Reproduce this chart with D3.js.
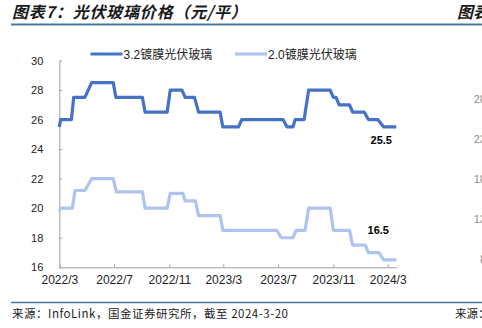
<!DOCTYPE html>
<html>
<head>
<meta charset="utf-8">
<script src="https://cdn.jsdelivr.net/npm/d3@7"></script>
<style>
  html, body { margin: 0; padding: 0; background: #fff; overflow: hidden; }
  svg { display: block; }
</style>
</head>
<body>
<div class="svg"></div>
<script>
// 3.2mm coated PV glass, price change points (yuan / m2)
var dates32 = ['2022-03-01','2022-03-04','2022-03-28','2022-04-02','2022-04-27','2022-05-12',
  '2022-06-29','2022-07-05','2022-09-02','2022-09-08','2022-10-27','2022-11-03','2022-11-29',
  '2022-12-06','2022-12-27','2023-01-05','2023-02-22','2023-02-28','2023-04-04','2023-04-11',
  '2023-07-12','2023-07-21','2023-08-03','2023-08-08','2023-08-28','2023-09-07','2023-10-25',
  '2023-11-01','2023-11-07','2023-11-14','2023-12-07','2023-12-14','2024-01-09','2024-01-18',
  '2024-02-08','2024-02-21','2024-03-20'];
var price32 = [25.5,26,26,27.5,27.5,28.5,28.5,27.5,27.5,26.5,26.5,28,28,27.5,27.5,26.5,26.5,
  25.5,25.5,26,26,25.5,25.5,26,26,28,28,27.5,27.5,27,27,26.5,26.5,26,26,25.5,25.5];

// 2.0mm coated PV glass
var dates20 = ['2022-03-01','2022-03-04','2022-03-30','2022-04-05','2022-04-27','2022-05-12',
  '2022-06-29','2022-07-06','2022-09-02','2022-09-08','2022-10-27','2022-11-03','2022-12-01',
  '2022-12-06','2022-12-29','2023-01-05','2023-02-22','2023-02-28','2023-06-28','2023-07-08',
  '2023-08-03','2023-08-10','2023-08-30','2023-09-07','2023-10-25','2023-11-01','2023-12-07',
  '2023-12-14','2024-01-11','2024-01-18','2024-02-10','2024-02-21','2024-03-20'];
var price20 = [19.8,20,20,21.2,21.2,22,22,21.1,21.1,20,20,21,21,20.5,20.5,19.5,19.5,18.5,18.5,
  18,18,18.5,18.5,20,20,18.5,18.5,17.5,17.5,17,17,16.5,16.5];

var seriesNames = ['3.2镀膜光伏玻璃', '2.0镀膜光伏玻璃'];
var xTickDates = ['2022-03-01','2022-07-01','2022-11-01','2023-03-01','2023-07-01','2023-11-01','2024-03-01'];
var xTickLabels = ['2022/3','2022/7','2022/11','2023/3','2023/7','2023/11','2024/3'];
var yTicks = [16, 18, 20, 22, 24, 26, 28, 30];
var lastLabels = ['25.5', '16.5'];

// neighbouring panel, only its left edge shows
var sideTicks = ['28', '23', '18', '13', '8'];

function glassChart(settings) {
  for (var k in glassChart.defaults) this[k] = glassChart.defaults[k];
  for (var s in settings) this[s] = settings[s];
  this.appendSvg('div.svg');
  this.drawFrame();
  this.drawAxes();
  this.drawLines();
  this.drawLegend();
}

glassChart.defaults = {
  'svg_width': 482,
  'svg_height': 328,
  'left': 59.3,
  'right': 396.7,
  'top': 60.5,
  'bottom': 267.3
};

glassChart.prototype.appendSvg = function (selector) {
  this.svg = d3.select(selector || 'body')
    .append('svg')
    .attr('width', this.svg_width)
    .attr('height', this.svg_height);
  var parse = d3.timeParse('%Y-%m-%d');
  this.parse = parse;
  this.x = d3.scaleTime()
    .domain([parse('2022-03-01'), parse('2024-03-21')])
    .range([this.left, this.right]);
  this.y = d3.scaleLinear()
    .domain([16, 30])
    .range([this.bottom, this.top]);
};

glassChart.prototype.drawFrame = function () {
  var svg = this.svg;
  svg.append('text')
    .attr('x', 12).attr('y', 18)
    .attr('font-family', '"Noto Sans CJK SC", sans-serif')
    .attr('font-size', '16px')
    .attr('font-weight', 'bold')
    .attr('font-style', 'italic')
    .attr('letter-spacing', '0.8px')
    .attr('fill', '#1a1a1a')
    .text('图表7：光伏玻璃价格（元/平）');
  svg.append('text')
    .attr('x', 457).attr('y', 18)
    .attr('font-family', '"Noto Sans CJK SC", sans-serif')
    .attr('font-size', '16px')
    .attr('font-weight', 'bold')
    .attr('font-style', 'italic')
    .attr('fill', '#1a1a1a')
    .text('图表');
  svg.append('line')
    .attr('x1', 11).attr('x2', 482).attr('y1', 24.5).attr('y2', 24.5)
    .attr('stroke', '#4a7896').attr('stroke-width', 2);
  svg.append('line')
    .attr('x1', 11).attr('x2', 482).attr('y1', 302.5).attr('y2', 302.5)
    .attr('stroke', '#4a7896').attr('stroke-width', 1.5);
  svg.append('text')
    .attr('x', 12).attr('y', 318)
    .attr('font-family', '"Noto Sans CJK SC", sans-serif')
    .attr('font-size', '11.5px')
    .attr('fill', '#222')
    .attr('textLength', 276)
    .attr('lengthAdjust', 'spacing')
    .text('来源：InfoLink，国金证券研究所，截至 2024-3-20');
  svg.append('text')
    .attr('x', 455).attr('y', 318)
    .attr('font-family', '"Noto Sans CJK SC", sans-serif')
    .attr('font-size', '11.5px')
    .attr('fill', '#222')
    .text('来源：');

  var sideY = d3.scaleLinear().domain([28, 8]).range([99.3, 259.3]);
  svg.selectAll('text.side')
    .data(sideTicks)
    .enter()
    .append('text')
    .attr('class', 'side')
    .attr('x', 486)
    .attr('y', function (d) { return sideY(+d) + 4; })
    .attr('text-anchor', 'end')
    .attr('font-family', '"Liberation Sans", Arial, sans-serif')
    .attr('font-size', '11px')
    .attr('fill', '#8c8c8c')
    .text(function (d) { return d; });
};

glassChart.prototype.drawAxes = function () {
  var _self = this;
  var yAxis = d3.axisLeft(this.y)
    .tickValues(yTicks)
    .tickSizeInner(-3)
    .tickSizeOuter(0)
    .tickPadding(16);
  var gy = this.svg.append('g')
    .attr('transform', 'translate(' + this.left + ',0)')
    .call(yAxis);

  var xAxis = d3.axisBottom(this.x)
    .tickValues(xTickDates.map(function (d) { return _self.parse(d); }))
    .tickFormat(function (d, i) { return xTickLabels[i]; })
    .tickSizeInner(-3)
    .tickSizeOuter(0)
    .tickPadding(8);
  var gx = this.svg.append('g')
    .attr('transform', 'translate(0,' + this.bottom + ')')
    .call(xAxis);

  [gx, gy].forEach(function (g) {
    g.select('.domain').attr('stroke', '#a0a0a0');
    g.selectAll('.tick line').attr('stroke', '#a0a0a0');
    g.selectAll('.tick text')
      .attr('fill', '#222')
      .attr('font-family', '"Liberation Sans", Arial, sans-serif');
  });
  gy.selectAll('.tick text').attr('font-size', '11px');
  gx.selectAll('.tick text').attr('font-size', '12px');
};

glassChart.prototype.drawLines = function () {
  var _self = this;
  var line = d3.line()
    .x(function (d) { return _self.x(d.date); })
    .y(function (d) { return _self.y(d.value); });

  var sets = [
    { dates: dates32, values: price32, color: '#4472c4' },
    { dates: dates20, values: price20, color: '#aec3ed' }
  ];
  var labelShift = [{ dx: -15, dy: 17 }, { dx: -18, dy: -26 }];

  sets.forEach(function (s, i) {
    var pts = s.dates.map(function (d, j) {
      return { date: _self.parse(d), value: s.values[j] };
    });
    _self.svg.append('path')
      .datum(pts)
      .attr('d', line)
      .attr('fill', 'none')
      .attr('stroke', s.color)
      .attr('stroke-width', 3.2)
      .attr('stroke-linejoin', 'round');

    var last = pts[pts.length - 1];
    _self.svg.append('text')
      .attr('x', _self.x(last.date) + labelShift[i].dx)
      .attr('y', _self.y(+lastLabels[i]) + labelShift[i].dy)
      .attr('text-anchor', 'middle')
      .attr('font-family', '"Liberation Sans", Arial, sans-serif')
      .attr('font-size', '11px')
      .attr('font-weight', 'bold')
      .attr('fill', '#000')
      .text(lastLabels[i]);
  });
  this.colors = sets.map(function (s) { return s.color; });
};

glassChart.prototype.drawLegend = function () {
  var _self = this;
  var xs = [90.5, 235];
  var g = this.svg.selectAll('g.legend')
    .data(seriesNames)
    .enter()
    .append('g')
    .attr('class', 'legend')
    .attr('transform', function (d, i) { return 'translate(' + xs[i] + ',54)'; });
  g.append('line')
    .attr('x1', 0).attr('x2', 32)
    .attr('stroke', function (d, i) { return _self.colors[i]; })
    .attr('stroke-width', 3.2);
  g.append('text')
    .attr('x', 33).attr('y', 5)
    .attr('font-family', '"Liberation Sans", "Noto Sans CJK SC", sans-serif')
    .attr('font-size', '12px')
    .attr('fill', '#222')
    .text(function (d) { return d; });
};

var chart = new glassChart({});
</script>
</body>
</html>
